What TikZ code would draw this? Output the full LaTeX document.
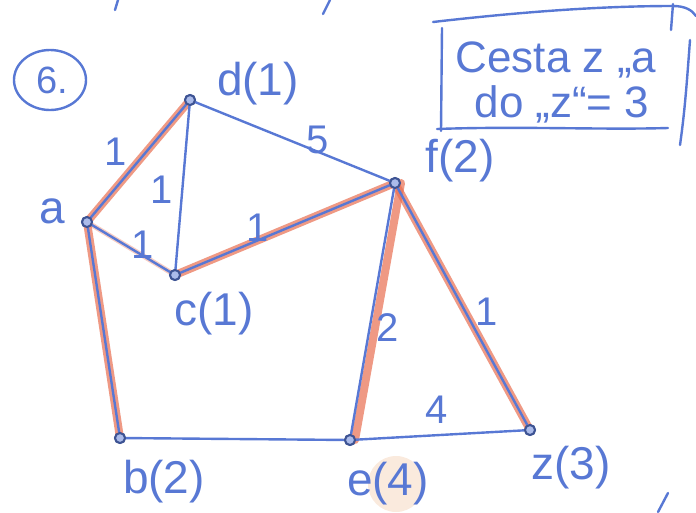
\documentclass[tikz,border=0pt]{standalone}
\usepackage{fontspec}
\setmainfont{Liberation Sans}
\definecolor{penblue}{RGB}{88,120,212}
\definecolor{hlred}{RGB}{232,110,80}
\definecolor{hlorange}{RGB}{235,170,120}
\begin{document}
\begin{tikzpicture}[x=1pt,y=-1pt,
  pen/.style={draw=penblue, line width=2.4pt, line cap=round, line join=round},
  hl/.style={draw=hlred, line width=8pt, line cap=round, opacity=0.7},
  vtx/.style={circle, draw=penblue!70!black, line width=2pt, fill=penblue!50, inner sep=0pt, minimum size=10pt},
  lbl/.style={text=penblue, font=\fontsize{46}{46}\selectfont},
  wt/.style={text=penblue, font=\fontsize{40}{40}\selectfont}]
\useasboundingbox (0,0) rectangle (696,512);
% vertices
\node[vtx] (a) at (87,222) {};
\node[vtx] (d) at (190,100) {};
\node[vtx] (c) at (175,275) {};
\node[vtx] (f) at (395,183) {};
\node[vtx] (b) at (120,438) {};
\node[vtx] (e) at (350,440) {};
\node[vtx] (z) at (530,430) {};
% highlighted path (red)
\draw[hl] (a.center) -- (d.center);
\draw[hl, opacity=0.35, line width=5pt] (a.center) -- (c.center);
\draw[hl] (c.center) -- (f.center);
\draw[hl] (a.center) -- (b.center);
\draw[hl] ([xshift=6pt]f.center) -- ([xshift=5pt]e.center);
\draw[hl] (f.center) -- (z.center);
% edges
\draw[pen] (a) -- (d);
\draw[pen] (d) -- (c);
\draw[pen] (d) -- (f);
\draw[pen] (a) -- (c);
\draw[pen] (c) -- (f);
\draw[pen] (a) -- (b);
\draw[pen] (b) -- (e);
\draw[pen] (f) -- (e);
\draw[pen] (f) -- (z);
\draw[pen] (e) -- (z);
% redraw vertices on top
\node[vtx] at (a) {};
\node[vtx] at (d) {};
\node[vtx] at (c) {};
\node[vtx] at (f) {};
\node[vtx] at (b) {};
\node[vtx] at (e) {};
\node[vtx] at (z) {};
% weights
\node[wt] (wad) at (116,152) {1};
\node[wt] (wdc) at (162,190) {1};
\node[wt] (wac) at (143,245) {1};
\node[wt] (wcf) at (258,228) {1};
\node[wt] (wdf) at (318,140) {5};
\node[wt] (wfe) at (388,328) {2};
\node[wt] (wfz) at (487,312) {1};
\node[wt] (wez) at (437,410) {4};
% vertex labels
\fill[hlorange, opacity=0.25] (396,484) circle (28);
\node[lbl] (la) at (52,211) {a};
\node[lbl] (ld) at (258,84) {d(1)};
\node[lbl] (lc) at (214,314) {c(1)};
\node[lbl] (lf) at (460,161) {f(2)};
\node[lbl] (lb) at (164,482) {b(2)};
\node[lbl] (le) at (388,484) {e(4)};
\node[lbl] (lz) at (571,468) {z(3)};
% circled number
\node[text=penblue, font=\fontsize{38}{38}\selectfont] (num) at (52,80) {6.};
\draw[pen] (50,80) ellipse (36 and 30);
% box with result
\draw[pen] (433,22) .. controls (520,12) and (600,6) .. (673,6) .. controls (685,6) and (692,10) .. (696,16);
\draw[pen] (673,4) -- (671,30);
\draw[pen] (442,28) -- (441,131);
\draw[pen] (437,129) .. controls (520,126) and (600,130) .. (668,128);
\draw[pen] (690,40) .. controls (687,80) and (685,110) .. (680,145);
\node[text=penblue, font=\fontsize{44}{44}\selectfont] (t1) at (556,60) {Cesta z „a};
\node[text=penblue, font=\fontsize{44}{44}\selectfont] (t2) at (562,104) {do „z“= 3};
% stray strokes
\draw[pen] (118,0) -- (115,10);
\draw[pen] (330,0) -- (323,14);
\draw[pen] (668,493) -- (658,512);
\end{tikzpicture}
\end{document}
